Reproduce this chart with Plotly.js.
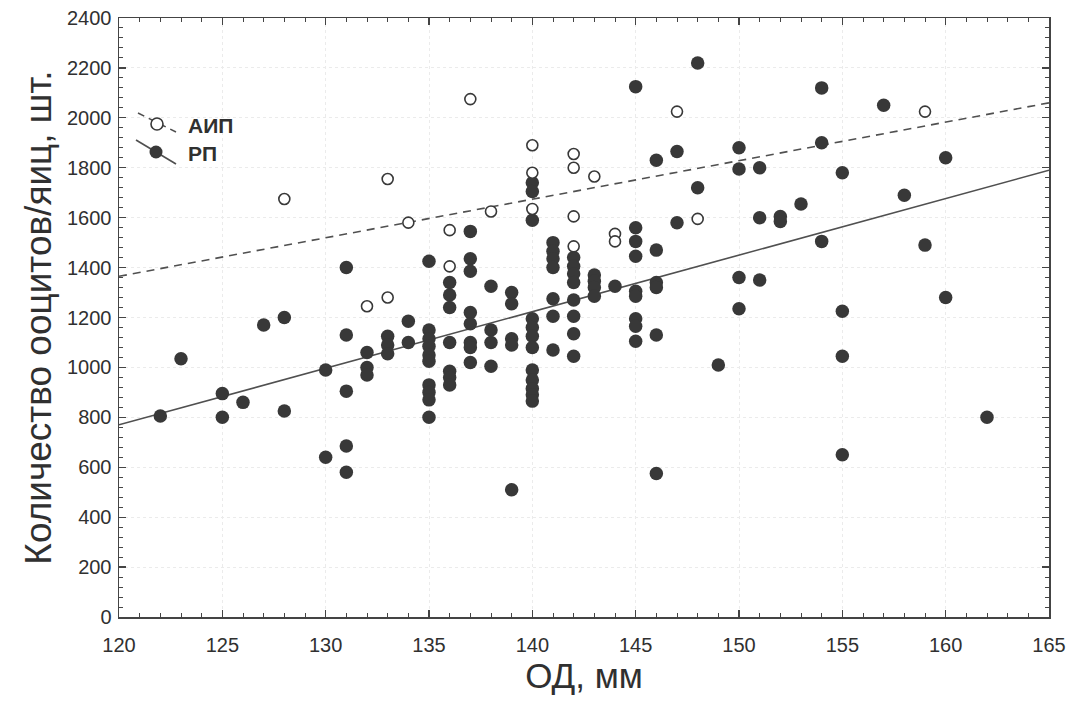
<!DOCTYPE html>
<html>
<head>
<meta charset="utf-8">
<script src="https://cdn.plot.ly/plotly-3.0.1.min.js"></script>
<style>
  html, body { margin: 0; padding: 0; background: #ffffff; }
  #chart { width: 1068px; height: 703px; }
</style>
</head>
<body>
<div id="chart"></div>
<script>
// ---- Data ----
// АИП (open circles)
const aipX = [128, 132, 133, 133, 134, 136, 136, 137, 138, 140, 140, 140, 142, 142, 142, 142, 143, 144, 144, 147, 148, 159];
const aipY = [1675, 1245, 1280, 1755, 1580, 1550, 1405, 2075, 1625, 1890, 1780, 1635, 1855, 1800, 1605, 1485, 1765, 1535, 1505, 2025, 1595, 2025];

// РП (filled circles)
const rpX = [122, 123, 125, 125, 126, 127, 128, 128, 130, 130,
  131, 131, 131, 131, 131, 132, 132, 132, 133, 133, 133, 134, 134,
  135, 135, 135, 135, 135, 135, 135, 135, 135, 135,
  136, 136, 136, 136, 136, 136, 136,
  137, 137, 137, 137, 137, 137, 137, 137,
  138, 138, 138, 138,
  139, 139, 139, 139, 139,
  140, 140, 140, 140, 140, 140, 140, 140, 140, 140, 140, 140,
  141, 141, 141, 141, 141, 141, 141,
  142, 142, 142, 142, 142, 142, 142, 142,
  143, 143, 143, 143,
  144,
  145, 145, 145, 145, 145, 145, 145, 145, 145,
  146, 146, 146, 146, 146, 146,
  147, 147, 148, 148, 149,
  150, 150, 150, 150, 151, 151, 151, 152, 152, 153,
  154, 154, 154, 155, 155, 155, 155,
  157, 158, 159, 160, 160, 162];
const rpY = [805, 1035, 895, 800, 860, 1170, 1200, 825, 990, 640,
  1400, 1130, 905, 685, 580, 1060, 1000, 970, 1125, 1090, 1055, 1185, 1100,
  1425, 1150, 1115, 1085, 1050, 1025, 930, 900, 870, 800,
  1340, 1290, 1240, 1100, 985, 960, 930,
  1545, 1435, 1385, 1220, 1175, 1100, 1080, 1020,
  1325, 1150, 1100, 1005,
  1300, 1255, 1115, 1090, 510,
  1740, 1705, 1590, 1195, 1160, 1125, 1080, 990, 950, 915, 890, 865,
  1500, 1465, 1435, 1400, 1275, 1205, 1070,
  1440, 1405, 1375, 1340, 1270, 1205, 1135, 1045,
  1370, 1345, 1320, 1285,
  1325,
  2125, 1560, 1505, 1445, 1305, 1285, 1195, 1165, 1105,
  1830, 1470, 1340, 1320, 1130, 575,
  1865, 1580, 2220, 1720, 1010,
  1880, 1795, 1360, 1235, 1800, 1600, 1350, 1605, 1585, 1655,
  2120, 1900, 1505, 1780, 1225, 1045, 650,
  2050, 1690, 1490, 1840, 1280, 800];

// Regression lines (end values)
const fitX = [120, 165];
const fitAIP = [1365, 2060];
const fitRP = [770, 1790];

// Axis ticks
const xTicks = [120, 125, 130, 135, 140, 145, 150, 155, 160, 165];
const yTicks = [0, 200, 400, 600, 800, 1000, 1200, 1400, 1600, 1800, 2000, 2200, 2400];

const legendNames = ['АИП', 'РП'];
const xTitle = 'ОД, мм';
const yTitle = 'Количество ооцитов/яиц, шт.';

// ---- Styles ----
const FONT = '"Liberation Sans", Arial, sans-serif';
const INK = '#383838';
const LINE = '#505050';
const TXT = '#303030';

const traces = [
  { x: fitX, y: fitAIP, mode: 'lines', line: { color: LINE, width: 1.6, dash: '8px,6px' }, hoverinfo: 'skip', showlegend: false },
  { x: fitX, y: fitRP, mode: 'lines', line: { color: LINE, width: 1.6 }, hoverinfo: 'skip', showlegend: false },
  { x: rpX, y: rpY, mode: 'markers', name: legendNames[1],
    marker: { size: 13.5, color: INK, line: { width: 0 } }, showlegend: false },
  { x: aipX, y: aipY, mode: 'markers', name: legendNames[0],
    marker: { size: 11, color: '#ffffff', line: { width: 1.6, color: INK } }, showlegend: false }
];

// paper-coordinate helpers for custom legend
const L = 119, R = 1049, T = 18, B = 617;
const px = v => (v - L) / (R - L);
const py = v => (B - v) / (B - T);

const shapes = [
  { type: 'line', xref: 'paper', yref: 'paper', x0: px(138), y0: py(113), x1: px(176), y1: py(132),
    line: { color: LINE, width: 1.6, dash: '7px,5px' } },
  { type: 'line', xref: 'paper', yref: 'paper', x0: px(136), y0: py(140), x1: px(176), y1: py(164),
    line: { color: LINE, width: 1.6 } },
  { type: 'circle', xref: 'paper', yref: 'paper', xsizemode: 'pixel', ysizemode: 'pixel',
    xanchor: px(157), yanchor: py(124), x0: -6, x1: 6, y0: -6, y1: 6,
    fillcolor: '#ffffff', line: { color: INK, width: 1.6 } },
  { type: 'circle', xref: 'paper', yref: 'paper', xsizemode: 'pixel', ysizemode: 'pixel',
    xanchor: px(156), yanchor: py(152), x0: -6.5, x1: 6.5, y0: -6.5, y1: 6.5,
    fillcolor: INK, line: { color: INK, width: 0 } }
];

const annotations = [
  { xref: 'paper', yref: 'paper', x: px(186), y: py(126), xanchor: 'left', yanchor: 'middle',
    text: '<b>' + legendNames[0] + '</b>', showarrow: false, font: { family: FONT, size: 21, color: TXT } },
  { xref: 'paper', yref: 'paper', x: px(186), y: py(153), xanchor: 'left', yanchor: 'middle',
    text: '<b>' + legendNames[1] + '</b>', showarrow: false, font: { family: FONT, size: 21, color: TXT } }
];

const axisCommon = {
  showline: true, linecolor: '#444', linewidth: 1.5, mirror: 'ticks',
  ticks: 'inside', ticklen: 7, tickwidth: 1.2, tickcolor: '#444',
  showgrid: true, gridcolor: '#ebebeb', griddash: 'dot', gridwidth: 1,
  zeroline: false, fixedrange: true,
  tickfont: { family: FONT, size: 20, color: TXT }
};

const layout = {
  width: 1068, height: 703,
  margin: { l: L, r: 1068 - R, t: T, b: 703 - B },
  paper_bgcolor: '#ffffff', plot_bgcolor: '#ffffff',
  showlegend: false,
  xaxis: Object.assign({}, axisCommon, {
    range: [120, 165], tickvals: xTicks, ticktext: xTicks.map(String),
    ticklabelstandoff: 9,
    minor: { dtick: 1, tick0: 120, ticks: 'inside', ticklen: 4, tickcolor: '#444', tickwidth: 1, showgrid: false },
    title: { text: xTitle, font: { family: FONT, size: 35, color: TXT }, standoff: 6 }
  }),
  yaxis: Object.assign({}, axisCommon, {
    range: [0, 2400], tickvals: yTicks, ticktext: yTicks.map(String),
    ticklabelstandoff: 2,
    minor: { dtick: 40, tick0: 0, ticks: 'inside', ticklen: 4, tickcolor: '#444', tickwidth: 1, showgrid: false },
    title: { text: yTitle, font: { family: FONT, size: 37, color: TXT }, standoff: 4 }
  }),
  shapes: shapes,
  annotations: annotations
};

Plotly.newPlot('chart', traces, layout, { displayModeBar: false, staticPlot: true });
</script>
</body>
</html>
